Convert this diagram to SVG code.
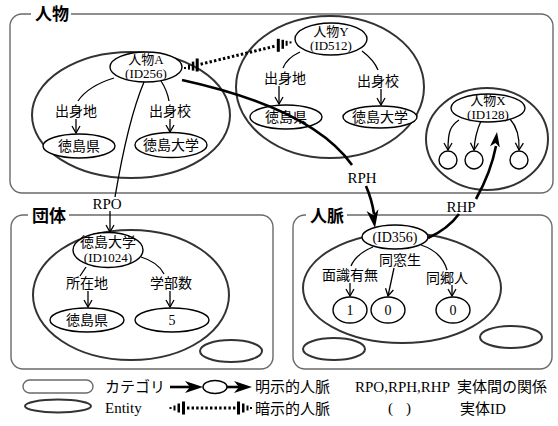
<svg xmlns="http://www.w3.org/2000/svg" width="558" height="426" viewBox="0 0 558 426">
  <style>
    .cat { fill: none; stroke: #6a6a6a; stroke-width: 1.4; }
    .grp { fill: none; stroke: #333; stroke-width: 2; }
    .ent { fill: #fff; stroke: #000; stroke-width: 1.4; }
    .ln { fill: none; stroke: #000; stroke-width: 1.3; }
    .thick { fill: none; stroke: #000; stroke-width: 2.6; }
    .dot { fill: none; stroke: #000; stroke-width: 3; stroke-dasharray: 2.4 2.2; }
    .n { font-family: "Liberation Serif", "Noto Sans CJK JP", serif; font-size: 14px; text-anchor: middle; fill: #000; }
    .n2 { font-family: "Liberation Serif", "Noto Sans CJK JP", serif; font-size: 13px; text-anchor: middle; fill: #000; }
    .lg { font-family: "Liberation Serif", "Noto Sans CJK JP", serif; font-size: 15px; fill: #000; }
    .ttl { font-family: "Noto Sans CJK JP", sans-serif; font-weight: bold; font-size: 17px; fill: #000; }
    .rel { font-family: "Liberation Serif", serif; font-size: 15px; text-anchor: middle; fill: #000; }
  </style>
  <defs>
    <marker id="v" markerUnits="userSpaceOnUse" markerWidth="10" markerHeight="10" viewBox="-9 -5 10 10" refX="0" refY="0" orient="auto">
      <path d="M-7,-4 L0,0 L-7,4" fill="none" stroke="#000" stroke-width="1.3"/>
    </marker>
    <polygon id="dart" points="0,0 -18,-6 -13,0 -18,6" fill="#000"/>
    <polygon id="dartS" points="0,0 -15,-5 -11,0 -15,5" fill="#000"/>
  </defs>

  <!-- category: 人物 -->
  <g id="cat-person">
    <rect class="cat" x="10" y="14" width="543" height="179" rx="12"/>
    <rect x="31" y="5" width="40" height="18" fill="#fff"/>
    <text class="ttl" x="35" y="20">人物</text>
  </g>
  <!-- category: 団体 -->
  <g id="cat-org">
    <rect class="cat" x="11" y="215" width="262" height="154" rx="12"/>
    <rect x="28" y="206" width="41" height="18" fill="#fff"/>
    <text class="ttl" x="32" y="222">団体</text>
  </g>
  <!-- category: 人脈 -->
  <g id="cat-rel">
    <rect class="cat" x="293" y="215" width="259" height="154" rx="12"/>
    <rect x="306" y="206" width="41" height="18" fill="#fff"/>
    <text class="ttl" x="310" y="222">人脈</text>
  </g>

  <!-- person A -->
  <g id="person-a">
    <ellipse class="grp" cx="131" cy="115" rx="99" ry="63"/>
    <ellipse class="ent" cx="146" cy="67" rx="36" ry="15"/>
    <text class="n2" x="146" y="64">人物A</text>
    <text class="n2" x="146" y="78">(ID256)</text>
    <ellipse class="ent" cx="79" cy="146" rx="36" ry="12"/>
    <text class="n" x="79" y="151">徳島県</text>
    <ellipse class="ent" cx="171" cy="145" rx="36" ry="12.5"/>
    <text class="n" x="171" y="150">徳島大学</text>
  </g>

  <!-- person Y -->
  <g id="person-y">
    <ellipse class="grp" cx="330" cy="87" rx="94" ry="71"/>
    <ellipse class="ent" cx="331" cy="39" rx="36" ry="16"/>
    <text class="n2" x="331" y="36">人物Y</text>
    <text class="n2" x="331" y="50">(ID512)</text>
    <ellipse class="ent" cx="286" cy="117" rx="36" ry="12"/>
    <text class="n" x="286" y="122">徳島県</text>
    <ellipse class="ent" cx="380" cy="117" rx="37" ry="11"/>
    <text class="n" x="380" y="122">徳島大学</text>
  </g>

  <!-- person X -->
  <g id="person-x">
    <ellipse class="grp" cx="487" cy="139" rx="61" ry="51"/>
    <ellipse class="ent" cx="488" cy="108" rx="37" ry="14"/>
    <text class="n2" x="488" y="105">人物X</text>
    <text class="n2" x="488" y="119">(ID128)</text>
    <circle class="ent" cx="448" cy="160" r="9"/>
    <circle class="ent" cx="474" cy="160" r="9"/>
    <circle class="ent" cx="519" cy="160" r="9"/>
  </g>

  <!-- organisation 徳島大学 -->
  <g id="org-univ">
    <ellipse class="grp" cx="131" cy="295" rx="98" ry="65"/>
    <ellipse class="ent" cx="108" cy="250" rx="35" ry="17.5"/>
    <text class="n" x="108" y="247">徳島大学</text>
    <text class="n2" x="108" y="262">(ID1024)</text>
    <ellipse class="ent" cx="87" cy="320" rx="37" ry="12"/>
    <text class="n" x="87" y="325">徳島県</text>
    <ellipse class="ent" cx="172" cy="320" rx="37" ry="12"/>
    <text class="n" x="172" y="325">5</text>
    <ellipse class="grp" cx="231" cy="351" rx="31" ry="11"/>
  </g>

  <!-- relation ID356 -->
  <g id="rel-356">
    <ellipse class="grp" cx="402" cy="288" rx="99" ry="55"/>
    <ellipse class="ent" cx="395" cy="237" rx="33" ry="12"/>
    <text class="n" x="395" y="242">(ID356)</text>
    <ellipse class="ent" cx="350" cy="310" rx="17" ry="13"/>
    <text class="n" x="350" y="315">1</text>
    <ellipse class="ent" cx="388" cy="310" rx="17" ry="13"/>
    <text class="n" x="388" y="315">0</text>
    <ellipse class="ent" cx="453" cy="310" rx="17" ry="13"/>
    <text class="n" x="453" y="315">0</text>
    <ellipse class="grp" cx="334" cy="349" rx="31" ry="11"/>
    <ellipse class="grp" cx="511" cy="337" rx="31" ry="11"/>
  </g>

  <!-- connectors -->
  <g id="connectors">
    <!-- A attributes -->
    <path class="ln" d="M114,78 Q88,86 78,101"/>
    <text class="n" x="76" y="116">出身地</text>
    <path class="ln" d="M76,119 L76,133" marker-end="url(#v)"/>
    <path class="ln" d="M161,81 Q167,90 169,101"/>
    <text class="n" x="170" y="116">出身校</text>
    <path class="ln" d="M170,119 L170,132" marker-end="url(#v)"/>

    <!-- Y attributes -->
    <path class="ln" d="M300,52 Q287,58 283,68"/>
    <text class="n" x="285" y="83">出身地</text>
    <path class="ln" d="M279,86 L279,104" marker-end="url(#v)"/>
    <path class="ln" d="M362,51 Q374,60 378,70"/>
    <text class="n" x="378" y="86">出身校</text>
    <path class="ln" d="M381,89 L381,105" marker-end="url(#v)"/>

    <!-- X members -->
    <path class="ln" d="M459,120 C450,126 448,132 448,150" marker-end="url(#v)"/>
    <path class="ln" d="M481,121 Q475,134 474,150" marker-end="url(#v)"/>
    <path class="ln" d="M510,119 Q520,130 519,150" marker-end="url(#v)"/>

    <!-- university attributes -->
    <path class="ln" d="M86,267 L80,276"/>
    <text class="n" x="87" y="288">所在地</text>
    <path class="ln" d="M88,291 L88,307" marker-end="url(#v)"/>
    <path class="ln" d="M141,257 Q158,262 164,274"/>
    <text class="n" x="171" y="288">学部数</text>
    <path class="ln" d="M170,291 L170,307" marker-end="url(#v)"/>

    <!-- relation attributes -->
    <path class="ln" d="M373,247 Q356,254 351,266"/>
    <text class="n" x="350" y="280">面識有無</text>
    <path class="ln" d="M350,283 L350,296" marker-end="url(#v)"/>
    <text class="n" x="400" y="265">同窓生</text>
    <path class="ln" d="M394,268 L388,296" marker-end="url(#v)"/>
    <path class="ln" d="M421,245 Q442,252 447,270"/>
    <text class="n" x="447" y="283">同郷人</text>
    <path class="ln" d="M452,285 L452,296" marker-end="url(#v)"/>

    <!-- RPO -->
    <path class="ln" d="M144,82 Q128,120 115,197"/>
    <text class="rel" x="107" y="209">RPO</text>
    <path class="ln" d="M110,211 L110,232" marker-end="url(#v)"/>

    <!-- RPH -->
    <path class="thick" d="M182,80 C250,95 320,120 352,165"/>
    <text class="rel" x="362" y="183">RPH</text>
    <path class="thick" d="M366,186 Q372,200 374,214"/>
    <use href="#dart" transform="translate(375,228) rotate(82)"/>

    <!-- RHP -->
    <path class="thick" d="M428,238 Q448,229 459,214"/>
    <text class="rel" x="461" y="212">RHP</text>
    <path class="thick" d="M476,199 Q491,172 496,146"/>
    <use href="#dartS" transform="translate(497,132) rotate(-82)"/>

    <!-- implicit link A - Y -->
    <g id="implicit-ay" fill="#000">
      <path class="dot" d="M200.6,64.2 L276.4,45.8"/>
      <rect x="184" y="67" width="2" height="2"/>
      <rect x="188" y="64.6" width="2" height="5"/>
      <rect x="191.8" y="61.6" width="2.5" height="9"/>
      <rect x="195.7" y="58.5" width="3" height="13"/>
      <rect x="276.8" y="38.8" width="3" height="13"/>
      <rect x="281.5" y="39.8" width="2.5" height="9"/>
      <rect x="285.6" y="40.8" width="2" height="5"/>
      <rect x="289.5" y="41.4" width="2" height="2"/>
    </g>
  </g>

  <!-- legend -->
  <g id="legend">
    <rect class="cat" x="23" y="380" width="70" height="13" rx="6.5"/>
    <text class="lg" x="105" y="392" font-size="13">カテゴリ</text>
    <ellipse class="grp" cx="58" cy="406" rx="33" ry="6.5" stroke-width="2.6"/>
    <text class="lg" x="105" y="413" font-size="14.5">Entity</text>

    <!-- explicit link sample -->
    <path class="thick" d="M170,387 L190,387" stroke-width="3"/>
    <use href="#dart" transform="translate(203,387)"/>
    <ellipse class="ent" cx="215" cy="387" rx="12" ry="6.5"/>
    <path class="thick" d="M227,387 L240,387" stroke-width="3"/>
    <use href="#dart" transform="translate(252,387)"/>
    <text class="lg" x="255" y="392">明示的人脈</text>

    <!-- implicit link sample -->
    <g fill="#000">
      <path class="dot" d="M187,408 L236,408"/>
      <rect x="169.5" y="407" width="2" height="2"/>
      <rect x="173.5" y="405.5" width="2" height="5"/>
      <rect x="177.5" y="403.5" width="2.5" height="9"/>
      <rect x="182" y="401.5" width="3" height="13"/>
      <rect x="237" y="401.5" width="3" height="13"/>
      <rect x="242" y="403.5" width="2.5" height="9"/>
      <rect x="246.5" y="405.5" width="2" height="5"/>
      <rect x="250" y="407" width="2" height="2"/>
    </g>
    <text class="lg" x="255" y="414">暗示的人脈</text>

    <text class="lg" x="355" y="392" font-size="14.2">RPO,RPH,RHP</text>
    <text class="lg" x="457" y="392">実体間の関係</text>
    <text class="lg" x="388" y="413">(</text>
    <text class="lg" x="406" y="413">)</text>
    <text class="lg" x="460" y="414">実体ID</text>
  </g>
</svg>
